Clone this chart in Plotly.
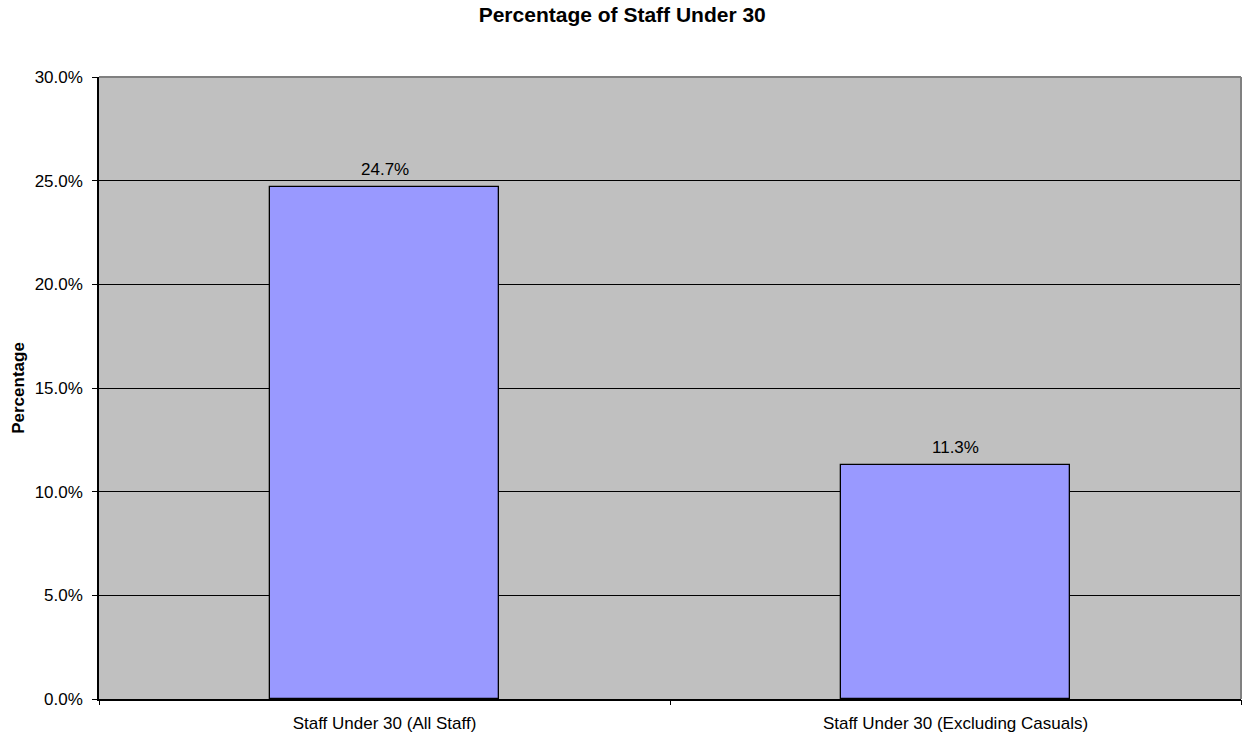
import plotly.graph_objects as go

categories = ["Staff Under 30 (All Staff)", "Staff Under 30 (Excluding Casuals)"]
values = [0.247, 0.113]
labels = ["24.7%", "11.3%"]
y_ticks = [0, 0.05, 0.10, 0.15, 0.20, 0.25, 0.30]
y_tick_text = ["0.0%", "5.0%", "10.0%", "15.0%", "20.0%", "25.0%", "30.0%"]

FONT = "Liberation Sans, Arial, sans-serif"
W, H = 1242, 739

fig = go.Figure()
fig.add_trace(go.Bar(
    x=[0, 1], y=values, width=0.4,
    marker=dict(color="#9999FF", line=dict(color="#000000", width=1.3)),
    hoverinfo="y",
))
# invisible trace for boundary tick marks
fig.add_trace(go.Scatter(x=[-0.5, 1.5], y=[0, 0], xaxis="x2", mode="markers",
                         marker=dict(opacity=0), hoverinfo="skip", showlegend=False))

annotations = [
    dict(x=i, y=v, xref="x", yref="y", text=t, showarrow=False,
         yanchor="bottom", yshift=6,
         font=dict(family=FONT, size=17, color="#000000"))
    for i, (v, t) in enumerate(zip(values, labels))
]

fig.update_layout(
    width=W, height=H,
    margin=dict(l=99, r=1, t=77, b=40),
    paper_bgcolor="#FFFFFF", plot_bgcolor="#C0C0C0",
    showlegend=False, bargap=0,
    title=dict(text="<b>Percentage of Staff Under 30</b>", x=0.501, xanchor="center",
               y=1 - 15 / H, yanchor="middle",
               font=dict(family=FONT, size=21, color="#000000")),
    xaxis=dict(range=[-0.5, 1.5], tickmode="array", tickvals=[0, 1], ticktext=categories,
               ticks="", showgrid=False, zeroline=False, showline=True,
               linecolor="#000000", linewidth=1.5, ticklabelstandoff=8, automargin=False,
               tickfont=dict(family=FONT, size=17, color="#000000")),
    xaxis2=dict(range=[-0.5, 1.5], overlaying="x", side="bottom", anchor="y",
                tickmode="array", tickvals=[-0.5, 0.5, 1.5], ticks="outside",
                ticklen=5, tickcolor="#000000", tickwidth=1,
                showticklabels=False, showgrid=False, zeroline=False, showline=False),
    yaxis=dict(range=[0, 0.3], tickmode="array", tickvals=y_ticks, ticktext=y_tick_text,
               ticks="outside", ticklen=5, tickcolor="#000000", ticklabelstandoff=6,
               showgrid=True, gridcolor="#000000", gridwidth=1, automargin=False,
               zeroline=False, showline=True, linecolor="#000000", linewidth=1.5,
               tickfont=dict(family=FONT, size=17, color="#000000"),
               title=dict(text="<b>Percentage</b>", standoff=6,
                          font=dict(family=FONT, size=17, color="#000000"))),
    annotations=annotations,
    shapes=[
        dict(type="line", xref="x domain", yref="y domain", x0=0, x1=1, y0=1, y1=1,
             line=dict(color="#808080", width=2)),
        dict(type="line", xref="x domain", yref="y domain", x0=1, x1=1, y0=0, y1=1,
             line=dict(color="#808080", width=2)),
    ],
)

fig.write_html("out.html", config={"displayModeBar": False},
               post_script="document.body.style.margin='0';document.body.style.overflow='hidden';")
